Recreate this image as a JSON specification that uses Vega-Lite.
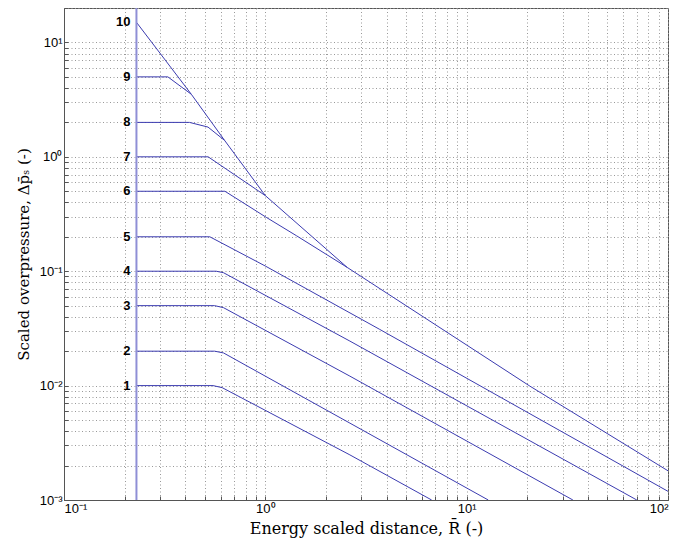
{
  "$schema": "https://vega.github.io/schema/vega-lite/v6.json",
  "width": 604,
  "height": 492,
  "autosize": "none",
  "padding": {"left": 64, "top": 8, "right": 9, "bottom": 46},
  "background": "white",
  "config": {
    "view": {"stroke": "#555555", "strokeWidth": 1},
    "axis": {
      "grid": true,
      "gridColor": "#999999",
      "gridDash": [1, 2.5],
      "gridWidth": 1,
      "domainColor": "#555555",
      "tickColor": "#555555",
      "tickSize": -4,
      "labelFont": "Liberation Sans",
      "labelFontSize": 13,
      "labelColor": "black",
      "titleFont": "DejaVu Serif",
      "titleFontSize": 15,
      "titleFontWeight": "normal",
      "titleColor": "black"
    }
  },
  "datasets": {
    "curves": [
      {"curve": 1, "k": 1, "R": 0.229, "P": 0.01},
      {"curve": 1, "k": 2, "R": 0.55, "P": 0.01},
      {"curve": 1, "k": 3, "R": 0.61, "P": 0.0096},
      {"curve": 1, "k": 4, "R": 2.63, "P": 0.00248},
      {"curve": 1, "k": 5, "R": 6.7, "P": 0.001},
      {"curve": 2, "k": 1, "R": 0.229, "P": 0.02},
      {"curve": 2, "k": 2, "R": 0.56, "P": 0.02},
      {"curve": 2, "k": 3, "R": 0.62, "P": 0.0193},
      {"curve": 2, "k": 4, "R": 2.63, "P": 0.0047},
      {"curve": 2, "k": 5, "R": 12.8, "P": 0.001},
      {"curve": 3, "k": 1, "R": 0.229, "P": 0.05},
      {"curve": 3, "k": 2, "R": 0.56, "P": 0.05},
      {"curve": 3, "k": 3, "R": 0.62, "P": 0.048},
      {"curve": 3, "k": 4, "R": 2.63, "P": 0.0121},
      {"curve": 3, "k": 5, "R": 33.7, "P": 0.001},
      {"curve": 4, "k": 1, "R": 0.229, "P": 0.1},
      {"curve": 4, "k": 2, "R": 0.57, "P": 0.1},
      {"curve": 4, "k": 3, "R": 0.62, "P": 0.097},
      {"curve": 4, "k": 4, "R": 2.63, "P": 0.0245},
      {"curve": 4, "k": 5, "R": 70, "P": 0.001},
      {"curve": 5, "k": 1, "R": 0.229, "P": 0.2},
      {"curve": 5, "k": 2, "R": 0.53, "P": 0.2},
      {"curve": 5, "k": 3, "R": 1.0, "P": 0.111},
      {"curve": 5, "k": 4, "R": 3.7, "P": 0.031},
      {"curve": 5, "k": 5, "R": 100, "P": 0.00119},
      {"curve": 6, "k": 1, "R": 0.229, "P": 0.5},
      {"curve": 6, "k": 2, "R": 0.63, "P": 0.5},
      {"curve": 6, "k": 3, "R": 1.01, "P": 0.296},
      {"curve": 6, "k": 4, "R": 1.43, "P": 0.204},
      {"curve": 6, "k": 5, "R": 2.55, "P": 0.108},
      {"curve": 7, "k": 1, "R": 0.229, "P": 1},
      {"curve": 7, "k": 2, "R": 0.52, "P": 1},
      {"curve": 7, "k": 3, "R": 1.0, "P": 0.458},
      {"curve": 8, "k": 1, "R": 0.229, "P": 2},
      {"curve": 8, "k": 2, "R": 0.42, "P": 2},
      {"curve": 8, "k": 3, "R": 0.519, "P": 1.82},
      {"curve": 8, "k": 4, "R": 0.628, "P": 1.39},
      {"curve": 9, "k": 1, "R": 0.229, "P": 5},
      {"curve": 9, "k": 2, "R": 0.328, "P": 5},
      {"curve": 9, "k": 3, "R": 0.429, "P": 3.52},
      {"curve": 10, "k": 1, "R": 0.229, "P": 15},
      {"curve": 10, "k": 2, "R": 0.429, "P": 3.52},
      {"curve": 10, "k": 3, "R": 0.628, "P": 1.39},
      {"curve": 10, "k": 4, "R": 1.0, "P": 0.458},
      {"curve": 10, "k": 5, "R": 2.55, "P": 0.108},
      {"curve": 10, "k": 6, "R": 20.6, "P": 0.0099},
      {"curve": 10, "k": 7, "R": 100, "P": 0.0018}
    ],
    "labels": [
      {"label": "1", "P": 0.01},
      {"label": "2", "P": 0.02},
      {"label": "3", "P": 0.05},
      {"label": "4", "P": 0.1},
      {"label": "5", "P": 0.2},
      {"label": "6", "P": 0.5},
      {"label": "7", "P": 1},
      {"label": "8", "P": 2},
      {"label": "9", "P": 5},
      {"label": "10", "P": 15}
    ],
    "wall": [{"R": 0.229}]
  },
  "layer": [
    {
      "data": {"name": "curves"},
      "mark": {"type": "line", "color": "#3b3bb0", "strokeWidth": 1, "clip": true},
      "encoding": {
        "x": {
          "field": "R", "type": "quantitative",
          "scale": {"type": "log", "domain": [0.1, 100], "nice": false},
          "axis": {
            "title": "Energy scaled distance, R̄ (-)",
            "titleFontSize": 16,
            "titlePadding": 5,
            "labelPadding": 6,
            "values": [0.1, 0.2, 0.3, 0.4, 0.5, 0.6, 0.7, 0.8, 0.9, 1, 2, 3, 4, 5, 6, 7, 8, 9, 10, 20, 30, 40, 50, 60, 70, 80, 90, 100],
            "labelExpr": "datum.value == 0.1 ? '10⁻¹' : datum.value == 1 ? '10⁰' : datum.value == 10 ? '10¹' : datum.value == 100 ? '10²' : ''"
          }
        },
        "y": {
          "field": "P", "type": "quantitative",
          "scale": {"type": "log", "domain": [0.001, 20], "nice": false},
          "axis": {
            "title": "Scaled overpressure, Δp̄ₛ (-)",
            "titlePadding": 8,
            "labelPadding": 6,
            "values": [0.001, 0.002, 0.003, 0.004, 0.005, 0.006, 0.007, 0.008, 0.009, 0.01, 0.02, 0.03, 0.04, 0.05, 0.06, 0.07, 0.08, 0.09, 0.1, 0.2, 0.3, 0.4, 0.5, 0.6, 0.7, 0.8, 0.9, 1, 2, 3, 4, 5, 6, 7, 8, 9, 10, 20],
            "labelExpr": "datum.value == 0.001 ? '10⁻³' : datum.value == 0.01 ? '10⁻²' : datum.value == 0.1 ? '10⁻¹' : datum.value == 1 ? '10⁰' : datum.value == 10 ? '10¹' : ''"
          }
        },
        "detail": {"field": "curve", "type": "nominal"},
        "order": {"field": "k", "type": "quantitative"}
      }
    },
    {
      "data": {"name": "wall"},
      "mark": {"type": "rule", "color": "#8f8fd6", "strokeWidth": 2},
      "encoding": {
        "x": {"field": "R", "type": "quantitative"}
      }
    },
    {
      "data": {"name": "labels"},
      "mark": {"type": "text", "align": "right", "baseline": "middle", "font": "Liberation Sans", "fontWeight": "bold", "fontSize": 13, "color": "black"},
      "encoding": {
        "x": {"datum": 0.214, "type": "quantitative"},
        "y": {"field": "P", "type": "quantitative"},
        "text": {"field": "label", "type": "nominal"}
      }
    }
  ]
}
